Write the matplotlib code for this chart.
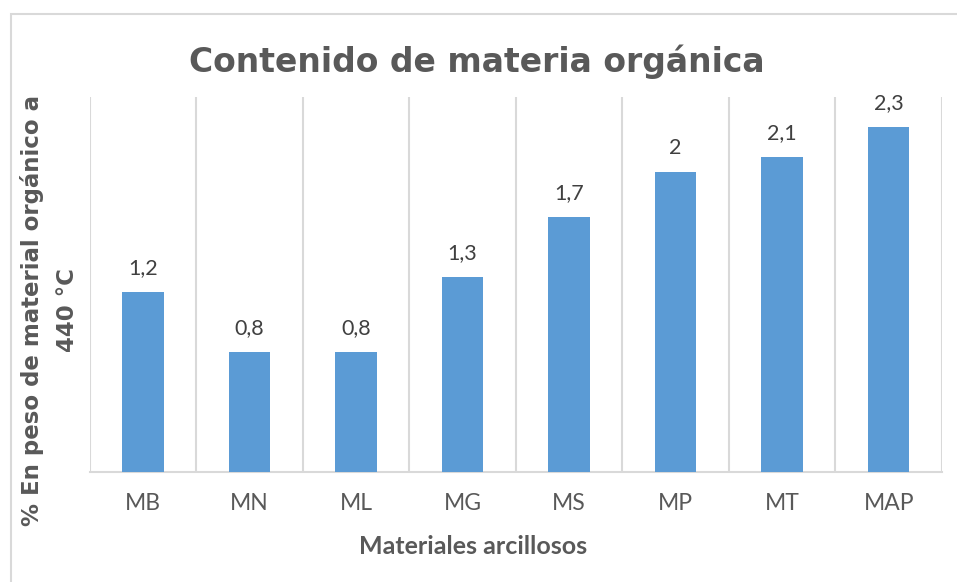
import matplotlib.pyplot as plt
from matplotlib.patches import Rectangle

categorias = ['MB', 'MN', 'ML', 'MG', 'MS', 'MP', 'MT', 'MAP']
valores = [1.2, 0.8, 0.8, 1.3, 1.7, 2.0, 2.1, 2.3]
etiquetas = ['1,2', '0,8', '0,8', '1,3', '1,7', '2', '2,1', '2,3']

W, H = 957, 582
fig = plt.figure(figsize=(W / 100, H / 100), dpi=100)

# marco gris del grafico
fig.patches.append(Rectangle((10.5 / W, -0.05), 1.2, (H - 14) / H + 0.05,
                             transform=fig.transFigure, fill=False,
                             edgecolor='#D9D9D9', linewidth=1.5))

ax = fig.add_axes([89.5 / W, 1 - 471.7 / H, (942 - 89.5) / W, (471.7 - 97) / H])
x = range(len(categorias))
ax.bar(x, valores, width=0.39, color='#5B9BD5', zorder=3)
ax.set_xlim(-0.5, len(categorias) - 0.5)
ax.set_ylim(0, 2.5)

for b in [i - 0.5 for i in range(len(categorias) + 1)]:
    ax.axvline(b, color='#D9D9D9', linewidth=1.5, zorder=1)

for i, (v, t) in enumerate(zip(valores, etiquetas)):
    ax.annotate(t, (i, v), xytext=(0, 10), textcoords='offset points',
                ha='center', va='bottom', fontsize=15.5, color='#404040',
                family='Lato')

for s in ['top', 'right', 'left']:
    ax.spines[s].set_visible(False)
ax.spines['bottom'].set_color('#D9D9D9')
ax.spines['bottom'].set_linewidth(1.5)
ax.set_yticks([])
ax.set_xticks(list(x))
ax.set_xticklabels(categorias, fontsize=16.5, color='#595959', family='Lato')
ax.tick_params(axis='x', length=0, pad=15)

fig.text(477 / W, 1 - 72 / H, 'Contenido de materia orgánica', ha='center',
         va='baseline', fontsize=23.8, fontweight='bold', color='#595959',
         family='DejaVu Sans')
fig.text(473 / W, 1 - 546 / H, 'Materiales arcillosos', ha='center',
         va='center', fontsize=18, fontweight='bold', color='#595959',
         family='Lato')
ylab1 = fig.text(32 / W, 1 - 310 / H, '% En peso de material orgánico a',
                 rotation=90, ha='center', va='center', fontsize=18,
                 fontweight='bold', color='#595959', family='DejaVu Sans')
# ajustar el tamano para que ocupe lo mismo que en la imagen (~434 px)
r = fig.canvas.get_renderer()
alto = ylab1.get_window_extent(r).height
fs = 18 * 434 / alto
ylab1.set_fontsize(fs)
fig.text(67 / W, 1 - 310 / H, '440 °C', rotation=90,
         ha='center', va='center', fontsize=fs, fontweight='bold',
         color='#595959', family='DejaVu Sans')

fig.savefig('out.png', dpi=100)
